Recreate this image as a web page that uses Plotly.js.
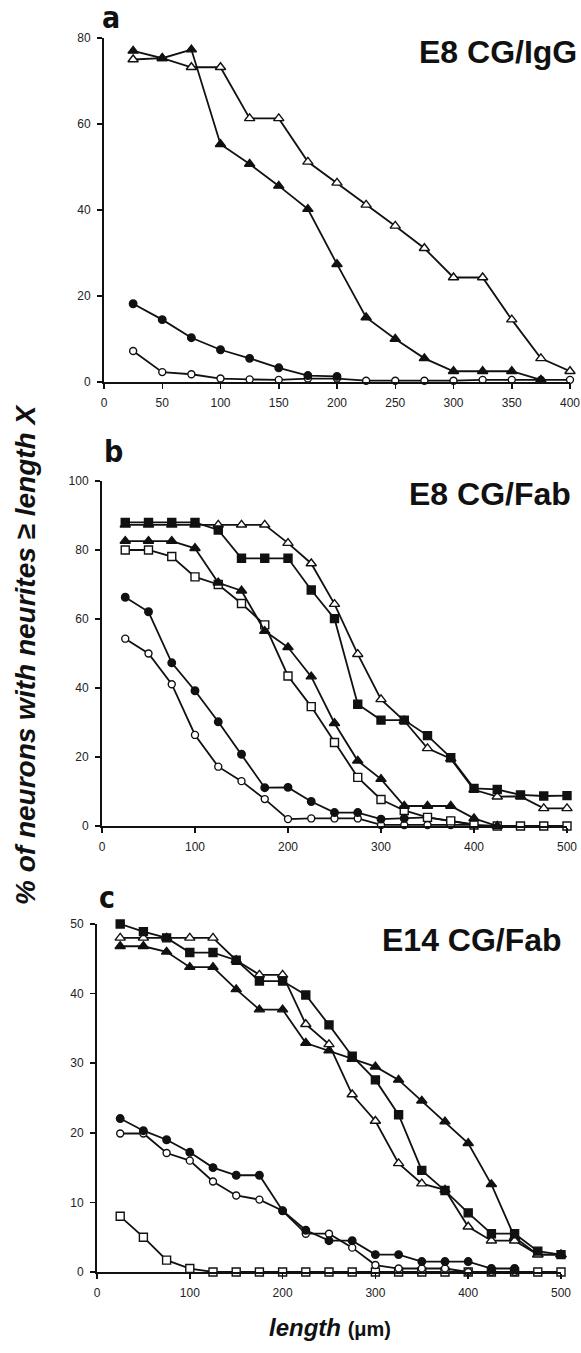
<!DOCTYPE html>
<html>
<head>
<meta charset="utf-8">
<script src="https://cdn.plot.ly/plotly-3.0.1.min.js"></script>
<style>
html,body{margin:0;padding:0;background:#fff;}
#chart{width:581px;height:1353px;}
</style>
</head>
<body>
<div id="chart"></div>
<script>
// ---------- data ----------
const lengthsA = [25,50,75,100,125,150,175,200,225,250,275,300,325,350,375,400];
const lengthsBC = [25,50,75,100,125,150,175,200,225,250,275,300,325,350,375,400,425,450,475,500];

// panel a: E8 CG/IgG
const a_openTri    = [75.0,75.3,73.2,73.2,61.3,61.3,51.2,46.3,41.2,36.3,31.1,24.3,24.3,14.5,5.5,2.5];
const a_filledTri  = [77.0,75.3,77.3,55.3,50.7,45.6,40.2,27.4,15.0,10.0,5.5,2.5,2.5,2.5,0.5];
const a_filledCirc = [18.2,14.5,10.3,7.5,5.5,3.3,1.5,1.3];
const a_openCirc   = [7.2,2.3,1.8,0.8,0.6,0.5,0.8,0.8,0.3,0.3,0.3,0.3,0.5,0.5,0.5,0.5];

// panel b: E8 CG/Fab
const b_filledSq   = [88,88,88,88,85.8,77.6,77.6,77.6,68.4,60.1,35.3,30.7,30.7,26.2,19.8,10.9,10.6,9.0,8.7,8.8];
const b_openTri    = [87.3,87.3,87.3,87.3,87.3,87.3,87.3,82,76.1,64.3,49.8,36.7,30.5,22.5,19.5,10.5,8.5,8.6,5.1,5.1];
const b_filledTri  = [82.6,82.6,82.6,80.5,70.5,68.2,56.5,51.8,43.3,29.8,18.9,13.6,5.8,5.8,5.8,2.2,0];
const b_openSq     = [80,80,78.1,72.2,70,64.5,58.3,43.5,34.6,24.2,14.1,7.7,4.5,2.5,1.5,0.3,0,0,0,0];
const b_filledCirc = [66.3,62.1,47.3,39.2,30.2,20.8,11.1,11.2,7.1,3.9,3.9,2.0,2.2,2.5,1.5,0.5];
const b_openCirc   = [54.3,50.0,41.1,26.4,17.2,13.0,7.8,2.0,2.2,2.2,2.2,0.3,0.3,0.3,0.3,0.3];

// panel c: E14 CG/Fab
const c_filledSq   = [50,48.9,48,45.9,45.9,44.8,41.8,41.8,39.8,35.5,31,27.6,22.6,14.6,11.7,8.5,5.5,5.5,3.0,2.5];
const c_openTri    = [48,48,48,48,48,44.8,42.7,42.7,35.6,32.7,25.5,21.7,15.6,12.7,11.8,6.5,4.5,4.5,2.5,2.5];
const c_filledTri  = [46.8,46.8,46,43.8,43.8,40.6,37.7,37.7,32.9,31.8,30.6,29.5,27.6,24.6,21.6,18.5,12.6,5.0,2.5,2.5];
const c_filledCirc = [22.05,20.3,19,17.2,15,13.9,13.9,8.8,6.0,4.5,4.5,2.5,2.5,1.5,1.5,1.5,0.5,0.5];
const c_openCirc   = [19.9,19.9,17.1,16,13,11,10.4,8.8,5.5,5.5,3.5,1,0.5,0.5,0.5,0,0,0];
const c_openSq     = [8,5,1.7,0.5,0,0,0,0,0,0,0,0,0,0,0,0,0,0,0,0];

const panelLabels = ['a','b','c'];
const panelTitles = ['E8 CG/IgG','E8 CG/Fab','E14 CG/Fab'];

// ---------- styles ----------
const INK = '#111';
const STY = {
  filledTri:  {symbol:'triangle-up', size:9, color:INK},
  openTri:    {symbol:'triangle-up', size:9, color:'#fff'},
  filledSq:   {symbol:'square', size:8, color:INK},
  openSq:     {symbol:'square', size:8, color:'#fff'},
  filledCirc: {symbol:'circle', size:7.5, color:INK},
  openCirc:   {symbol:'circle', size:7, color:'#fff'}
};

function tr(xs, ys, kind, ax) {
  const s = STY[kind];
  return {
    type:'scatter', mode:'lines+markers',
    x: xs.slice(0, ys.length), y: ys,
    xaxis:'x'+ax, yaxis:'y'+ax,
    line:{color:INK, width:1.8},
    marker:{symbol:s.symbol, size:s.size, color:s.color, line:{color:INK, width:1.4}},
    cliponaxis:false, showlegend:false, hoverinfo:'skip'
  };
}

const traces = [
  tr(lengthsA, a_openCirc, 'openCirc', ''),
  tr(lengthsA, a_filledCirc, 'filledCirc', ''),
  tr(lengthsA, a_openTri, 'openTri', ''),
  tr(lengthsA, a_filledTri, 'filledTri', ''),

  tr(lengthsBC, b_openCirc, 'openCirc', '2'),
  tr(lengthsBC, b_filledCirc, 'filledCirc', '2'),
  tr(lengthsBC, b_openSq, 'openSq', '2'),
  tr(lengthsBC, b_filledTri, 'filledTri', '2'),
  tr(lengthsBC, b_openTri, 'openTri', '2'),
  tr(lengthsBC, b_filledSq, 'filledSq', '2'),

  tr(lengthsBC, c_openSq, 'openSq', '3'),
  tr(lengthsBC, c_openCirc, 'openCirc', '3'),
  tr(lengthsBC, c_filledCirc, 'filledCirc', '3'),
  tr(lengthsBC, c_filledTri, 'filledTri', '3'),
  tr(lengthsBC, c_openTri, 'openTri', '3'),
  tr(lengthsBC, c_filledSq, 'filledSq', '3')
];

// ---------- layout ----------
const W = 581, H = 1353;
const px = v => v / W;
const py = v => 1 - v / H;

// pixel frames of the three plot areas [left, right, bottom, top]
const frames = [
  {l:104, r:570, b:382, t:38, xr:[0,400], yr:[0,80], dx:50, dy:20},
  {l:102, r:567, b:826, t:481, xr:[0,500], yr:[0,100], dx:100, dy:20},
  {l:97,  r:561, b:1272, t:924, xr:[0,500], yr:[0,50], dx:100, dy:10}
];

const tickFont = {family:'Liberation Sans, Arial, sans-serif', size:12, color:'#222'};
const layout = {
  width:W, height:H,
  margin:{l:0, r:0, t:0, b:0},
  paper_bgcolor:'#fff', plot_bgcolor:'rgba(0,0,0,0)',
  showlegend:false,
  annotations:[]
};

frames.forEach((f, i) => {
  const sfx = i === 0 ? '' : String(i + 1);
  layout['xaxis' + sfx] = {
    domain:[px(f.l), px(f.r)], range:f.xr, anchor:'y' + sfx,
    dtick:f.dx, tick0:0, showgrid:false, zeroline:false,
    showline:true, linecolor:INK, linewidth:2,
    ticks:'outside', ticklen:5, tickwidth:1.5, tickcolor:INK,
    tickfont:tickFont, ticklabelstandoff:4, fixedrange:true
  };
  layout['yaxis' + sfx] = {
    domain:[py(f.b), py(f.t)], range:f.yr, anchor:'x' + sfx,
    dtick:f.dy, tick0:0, showgrid:false, zeroline:false,
    showline:true, linecolor:INK, linewidth:2,
    ticks:'outside', ticklen:5, tickwidth:1.5, tickcolor:INK,
    tickfont:tickFont, ticklabelstandoff:4, fixedrange:true
  };
});

// panel letters
const letterPos = [[111, 17], [113, 452], [107, 897]];
panelLabels.forEach((t, i) => {
  layout.annotations.push({
    xref:'paper', yref:'paper', x:px(letterPos[i][0]), y:py(letterPos[i][1]),
    xanchor:'center', yanchor:'middle', showarrow:false,
    text:'<b>' + t + '</b>',
    font:{family:'Liberation Sans Narrow, DejaVu Sans Condensed, sans-serif', size:30, color:INK}
  });
});

// panel titles
const titlePos = [[417, 51.5], [407, 494], [380, 940]];
panelTitles.forEach((t, i) => {
  layout.annotations.push({
    xref:'paper', yref:'paper', x:px(titlePos[i][0]), y:py(titlePos[i][1]),
    xanchor:'left', yanchor:'middle', showarrow:false,
    text:'<b>' + t + '</b>',
    font:{family:'Liberation Sans, Arial, sans-serif', size:32, color:INK}
  });
});

// shared axis titles
layout.annotations.push({
  xref:'paper', yref:'paper', x:px(25), y:py(655),
  xanchor:'center', yanchor:'middle', showarrow:false, textangle:-90,
  text:'<b><i>% of neurons with neurites ≥ length X</i></b>',
  font:{family:'Liberation Sans, Arial, sans-serif', size:28, color:INK}
});
layout.annotations.push({
  xref:'paper', yref:'paper', x:px(330), y:py(1327),
  xanchor:'center', yanchor:'middle', showarrow:false,
  text:'<b><i>length</i></b> <b><span style="font-size:20px">(μm)</span></b>',
  font:{family:'Liberation Sans, Arial, sans-serif', size:24, color:INK}
});

Plotly.newPlot('chart', traces, layout, {staticPlot:true, displayModeBar:false});
</script>
</body>
</html>
